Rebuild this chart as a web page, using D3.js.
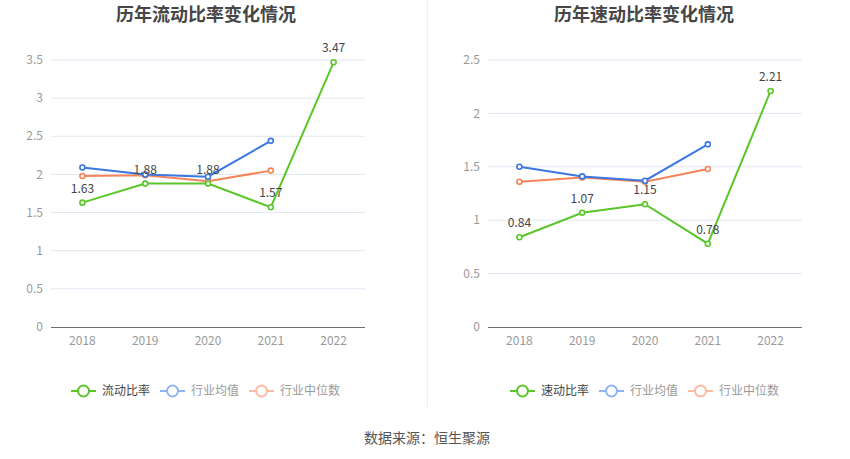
<!DOCTYPE html>
<html><head><meta charset="utf-8">
<script src="https://cdn.jsdelivr.net/npm/d3@7"></script>
<style>body{margin:0;background:#fff;}svg{display:block;font-family:"Microsoft YaHei","Noto Sans CJK SC",sans-serif;}</style>
</head><body><svg id="c" width="850" height="459"></svg>
<script>
const years = ["2018","2019","2020","2021","2022"];
const currentRatio = [1.63, 1.88, 1.88, 1.57, 3.47];
const currentAvg = [2.09, 2.00, 1.97, 2.44, null];
const currentMed = [1.98, 1.99, 1.91, 2.05, null];
const quickRatio = [0.84, 1.07, 1.15, 0.78, 2.21];
const quickAvg = [1.50, 1.41, 1.37, 1.71, null];
const quickMed = [1.36, 1.40, 1.36, 1.48, null];
const leftTicks = [0, 0.5, 1, 1.5, 2, 2.5, 3, 3.5];
const rightTicks = [0, 0.5, 1, 1.5, 2, 2.5];
const colors = {main:"#5ac629", avg:"#3b76e1", med:"#f6845a"};
const legendColors = {main:"#5ac629", avg:"#92b3f4", med:"#fbbba3"};

const svg = d3.select("#c");

function drawChart(cfg){
  const g = svg.append("g");
  const x = d3.scaleBand().domain(years).range([cfg.x0, cfg.x1]);
  const y = d3.scaleLinear().domain([0, cfg.max]).range([327, 60]);
  g.append("text").attr("x", cfg.titleX).attr("y", 21).attr("text-anchor","middle")
    .attr("font-size", 18).attr("font-weight","bold").attr("fill","#464646").text(cfg.title);
  g.selectAll(".grid").data(cfg.ticks.filter(t=>t>0)).enter().append("line")
    .attr("x1", cfg.x0).attr("x2", cfg.x1).attr("y1", d=>y(d)).attr("y2", d=>y(d))
    .attr("stroke","#e0e6f1").attr("stroke-width",1);
  g.selectAll(".yl").data(cfg.ticks).enter().append("text")
    .attr("x", cfg.x0 - 8).attr("y", d=>y(d)).attr("dy","0.35em").attr("text-anchor","end")
    .attr("font-size",12).attr("fill","#999").text(d=>d);
  g.append("line").attr("x1",cfg.x0).attr("x2",cfg.x1).attr("y1",y(0)+0.5).attr("y2",y(0)+0.5)
    .attr("stroke","#6e7079").attr("stroke-width",1);
  g.selectAll(".xl").data(years).enter().append("text")
    .attr("x", d=>x(d)+x.bandwidth()/2).attr("y", 345).attr("text-anchor","middle")
    .attr("font-size",12).attr("fill","#999").text(d=>d);
  const series = [
    {vals: cfg.med, color: colors.med},
    {vals: cfg.avg, color: colors.avg},
    {vals: cfg.main, color: colors.main, labels:true}
  ];
  series.forEach(s=>{
    const pts = years.map((yr,i)=>({yr, v:s.vals[i]})).filter(p=>p.v!=null);
    const line = d3.line().x(p=>x(p.yr)+x.bandwidth()/2).y(p=>y(p.v));
    g.append("path").datum(pts).attr("d", line).attr("fill","none")
      .attr("stroke", s.color).attr("stroke-width",2);
    g.selectAll(null).data(pts).enter().append("circle")
      .attr("cx", p=>x(p.yr)+x.bandwidth()/2).attr("cy", p=>y(p.v)).attr("r",2.5)
      .attr("fill","#fff").attr("stroke", s.color).attr("stroke-width",1.6);
    if (s.labels){
      g.selectAll(null).data(pts).enter().append("text")
        .attr("x", p=>x(p.yr)+x.bandwidth()/2).attr("y", p=>y(p.v)-10)
        .attr("text-anchor","middle").attr("font-size",12).attr("fill","#444")
        .text(p=>p.v.toFixed(2));
    }
  });
  const items = [
    {name: cfg.name, c: legendColors.main, t:"#444"},
    {name:"行业均值", c: legendColors.avg, t:"#999"},
    {name:"行业中位数", c: legendColors.med, t:"#999"}
  ];
  let lx = cfg.legendX;
  items.forEach(it=>{
    const lg = g.append("g");
    lg.append("line").attr("x1",lx).attr("x2",lx+25).attr("y1",391).attr("y2",391)
      .attr("stroke",it.c).attr("stroke-width",2);
    lg.append("circle").attr("cx",lx+12.5).attr("cy",391).attr("r",5.5)
      .attr("fill","#fff").attr("stroke",it.c).attr("stroke-width",2);
    const t = lg.append("text").attr("x",lx+31).attr("y",391).attr("dy","0.35em")
      .attr("font-size",12).attr("fill",it.t).text(it.name);
    lx += 31 + t.node().getComputedTextLength() + 10;
  });
}

drawChart({title:"历年流动比率变化情况", name:"流动比率", x0:51, x1:365, max:3.5, ticks:leftTicks,
  main:currentRatio, avg:currentAvg, med:currentMed, legendX:71, titleX:206});
drawChart({title:"历年速动比率变化情况", name:"速动比率", x0:488, x1:802, max:2.5, ticks:rightTicks,
  main:quickRatio, avg:quickAvg, med:quickMed, legendX:510, titleX:644});

svg.append("line").attr("x1",427.5).attr("x2",427.5).attr("y1",0).attr("y2",407)
  .attr("stroke","#eeeeee").attr("stroke-width",1);
svg.append("text").attr("x",427).attr("y",438).attr("dy","0.35em").attr("text-anchor","middle")
  .attr("font-size",14).attr("fill","#555").text("数据来源：恒生聚源");
</script></body></html>
